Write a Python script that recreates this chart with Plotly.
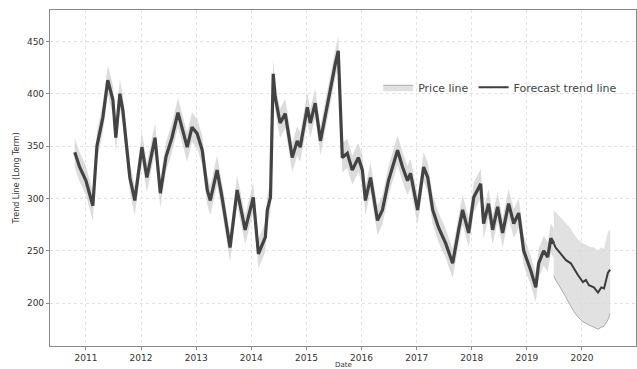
import plotly.graph_objects as go

# Historical price series (approximate readings along the trend)
hist_dates = [
    "2010-10-19", "2010-11-20", "2011-01-01", "2011-02-16", "2011-03-15", "2011-04-23",
    "2011-05-26", "2011-06-29", "2011-07-18", "2011-08-14", "2011-09-03", "2011-10-19",
    "2011-11-21", "2012-01-07", "2012-02-09", "2012-04-03", "2012-05-08", "2012-06-15",
    "2012-07-24", "2012-09-02", "2012-11-02", "2012-12-04", "2013-01-07", "2013-02-10",
    "2013-03-15", "2013-04-04", "2013-05-19", "2013-06-21", "2013-08-13", "2013-09-29",
    "2013-11-21", "2014-01-14", "2014-02-17", "2014-04-04", "2014-04-17", "2014-05-08",
    "2014-05-26", "2014-06-08", "2014-07-11", "2014-08-14", "2014-09-29", "2014-11-01",
    "2014-11-21", "2015-01-07", "2015-01-27", "2015-02-28", "2015-04-04", "2015-05-08",
    "2015-06-09", "2015-07-12", "2015-07-31", "2015-08-27", "2015-09-29", "2015-11-01",
    "2015-12-11", "2016-01-07", "2016-01-27", "2016-03-01", "2016-04-16", "2016-05-19",
    "2016-06-28", "2016-08-27", "2016-09-29", "2016-11-01", "2016-11-21", "2017-01-07",
    "2017-02-16", "2017-03-15", "2017-04-17", "2017-05-26", "2017-07-12", "2017-08-27",
    "2017-10-06", "2017-11-01", "2017-12-11", "2018-01-14", "2018-03-01", "2018-03-20",
    "2018-04-22", "2018-05-19", "2018-06-21", "2018-07-24", "2018-09-02", "2018-10-06",
    "2018-11-08", "2018-12-11", "2019-01-27", "2019-03-01", "2019-03-20", "2019-04-22",
    "2019-05-19", "2019-06-09", "2019-06-28",
]
hist_values = [
    344, 330, 317, 293, 350, 377,
    413, 394, 358, 400, 384, 320,
    298, 349, 320, 358, 305, 340,
    358, 382, 349, 368, 362, 346,
    308, 298, 327, 301, 253, 308,
    270, 301, 247, 263, 289, 301,
    419, 397, 372, 381, 339, 355,
    349, 387, 372, 391, 355, 381,
    406, 429, 441, 339, 343, 327,
    339, 327, 298, 320, 279, 289,
    317, 346, 330, 317, 324, 289,
    330, 320, 289, 272, 257, 238,
    270, 289, 267, 301, 314, 276,
    295, 270, 292, 267, 295, 276,
    286, 250, 231, 215, 238, 250,
    244, 262, 257,
]
hist_band = 14  # half-width of the historical uncertainty band

# Forecast trend with its uncertainty interval
fc_dates = [
    "2019-06-28", "2019-07-11", "2019-08-14", "2019-09-17", "2019-10-19", "2019-11-08",
    "2019-12-04", "2020-01-07", "2020-01-27", "2020-02-16", "2020-03-20", "2020-04-16",
    "2020-05-08", "2020-05-26", "2020-06-21", "2020-07-06",
]
fc_values = [257, 253, 247, 241, 238, 233, 227, 220, 222, 217, 215, 210, 215, 214, 229, 232]
fc_upper = [289, 287, 282, 276, 271, 266, 261, 257, 256, 254, 253, 250, 253, 252, 268, 270]
fc_lower = [226, 222, 214, 205, 198, 192, 187, 182, 181, 179, 177, 175, 177, 178, 184, 190]

y_ticks = [200, 250, 300, 350, 400, 450]

font = "DejaVu Sans"
fig = go.Figure()

# historical band
fig.add_trace(go.Scatter(
    x=hist_dates, y=[v + hist_band for v in hist_values], mode="lines",
    line=dict(width=0, color="#c8c8c8"), showlegend=False, hoverinfo="skip",
))
fig.add_trace(go.Scatter(
    x=hist_dates, y=[v - hist_band for v in hist_values], mode="lines",
    fill="tonexty", fillcolor="rgba(205,205,205,0.7)",
    line=dict(width=0, color="#c8c8c8"), showlegend=False, hoverinfo="skip",
))

# forecast band (legend entry "Price line")
fig.add_trace(go.Scatter(
    x=fc_dates, y=fc_upper, mode="lines",
    line=dict(width=0, color="#bdbdbd"), showlegend=False, hoverinfo="skip",
))
fig.add_trace(go.Scatter(
    x=fc_dates, y=fc_lower, mode="lines", name="Price line",
    fill="tonexty", fillcolor="rgba(218,218,218,0.8)",
    line=dict(width=0.8, color="#9a9a9a"),
))

# historical price line
fig.add_trace(go.Scatter(
    x=hist_dates, y=hist_values, mode="lines",
    line=dict(width=3.2, color="#434343"), showlegend=False,
))
# forecast trend line
fig.add_trace(go.Scatter(
    x=fc_dates, y=fc_values, mode="lines", name="Forecast trend line",
    line=dict(width=2, color="#3d3d3d"),
))

axis_common = dict(
    showline=True, linecolor="#8a8a8a", linewidth=1.2, mirror=True,
    ticks="outside", ticklen=3, tickcolor="#8a8a8a",
    showgrid=True, gridcolor="#e2e2e2", griddash="dot", gridwidth=1,
    zeroline=False, tickfont=dict(family=font, size=9, color="#333"),
)

fig.update_xaxes(
    **axis_common, type="date", range=["2010-05-08", "2020-12-24"],
    tick0="2011-01-01", dtick="M12", tickformat="%Y",
)
fig.update_yaxes(
    **axis_common, range=[159, 480], tickvals=y_ticks,
    title=dict(text="Trend Line (Long Term)", font=dict(family=font, size=8, color="#333"), standoff=6),
)

# x-axis title sitting just above the bottom edge of the canvas
fig.add_annotation(
    text="Date", xref="paper", yref="paper", x=0.5, y=-0.056,
    xanchor="center", yanchor="middle", showarrow=False,
    font=dict(family=font, size=7, color="#333"), borderpad=0,
)

fig.update_layout(
    width=637, height=369,
    margin=dict(l=50, r=1, t=10, b=23),
    paper_bgcolor="white", plot_bgcolor="white",
    font=dict(family=font, color="#444"),
    legend=dict(
        orientation="h", x=0.56, y=0.77, xanchor="left", yanchor="middle",
        bgcolor="rgba(0,0,0,0)", font=dict(family=font, size=11, color="#444"),
        itemwidth=30, tracegroupgap=0, traceorder="normal",
    ),
)

fig.write_html("out.html")
